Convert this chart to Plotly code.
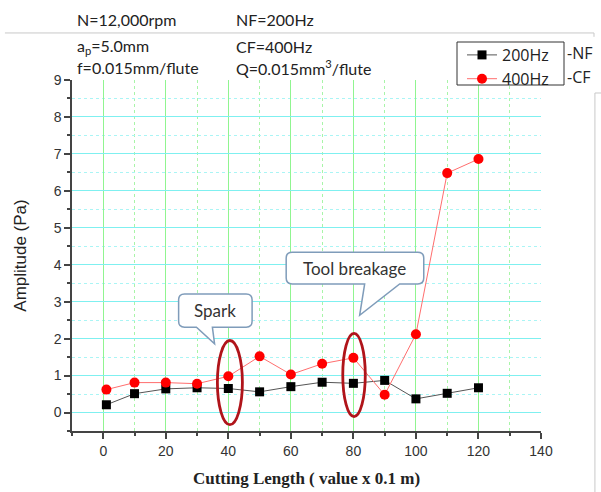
import plotly.graph_objects as go

cutting_length = [1, 10, 20, 30, 40, 50, 60, 70, 80, 90, 100, 110, 120]
nf_200hz = [0.21, 0.51, 0.64, 0.67, 0.65, 0.56, 0.70, 0.82, 0.79, 0.87, 0.37, 0.52, 0.67]
cf_400hz = [0.62, 0.81, 0.81, 0.78, 0.98, 1.52, 1.03, 1.32, 1.48, 0.48, 2.12, 6.48, 6.86]

x_ticks = [0, 20, 40, 60, 80, 100, 120, 140]
y_ticks = [0, 1, 2, 3, 4, 5, 6, 7, 8, 9]

fig = go.Figure()
fig.add_trace(go.Scatter(
    x=cutting_length, y=nf_200hz, mode="lines+markers", name="200Hz",
    line=dict(color="#555555", width=1),
    marker=dict(symbol="square", size=9, color="black"),
))
fig.add_trace(go.Scatter(
    x=cutting_length, y=cf_400hz, mode="lines+markers", name="400Hz",
    line=dict(color="#ff6e6e", width=1),
    marker=dict(symbol="circle", size=10, color="#ff0000"),
))

axis_common = dict(
    showline=True, linecolor="#444444", linewidth=1.5,
    ticks="outside", ticklen=6, tickwidth=1.5, tickcolor="#444444",
    zeroline=False, automargin=False,
    tickfont=dict(family="Liberation Sans, Arial", size=14, color="#333333"),
)

fig.update_xaxes(
    range=[-10, 140], tickvals=x_ticks,
    showgrid=True, gridcolor="#90f590", gridwidth=1.2,
    minor=dict(dtick=10, tick0=0, showgrid=True, gridcolor="#a8f5a8", griddash="dot",
               ticks="outside", ticklen=3, tickcolor="#444444"),
    title=dict(text="<b>Cutting Length ( value x 0.1 m)</b>",
               font=dict(family="Liberation Serif, Times New Roman", size=17, color="#222222"),
               standoff=15),
    **axis_common,
)
fig.update_yaxes(
    range=[-0.5, 9], tickvals=y_ticks,
    showgrid=True, gridcolor="#7ff0f0", gridwidth=1.2,
    minor=dict(dtick=0.5, tick0=0, showgrid=True, gridcolor="#aaf5f5", griddash="dot",
               ticks="outside", ticklen=3, tickcolor="#444444"),
    title=dict(text="Amplitude (Pa)",
               font=dict(family="Liberation Sans, Arial", size=17, color="#222222"),
               standoff=23),
    **axis_common,
)

# Callout path (rounded box with tail), in data units
def callout(xl, xr, yb, yt, t1, t2, tipx, tipy, rx=1.9, ry=0.16):
    return (f"M {xl+rx},{yt} L {xr-rx},{yt} Q {xr},{yt} {xr},{yt-ry} "
            f"L {xr},{yb+ry} Q {xr},{yb} {xr-rx},{yb} L {t2},{yb} L {tipx},{tipy} "
            f"L {t1},{yb} L {xl+rx},{yb} Q {xl},{yb} {xl},{yb+ry} "
            f"L {xl},{yt-ry} Q {xl},{yt} {xl+rx},{yt} Z")

box_line = dict(color="#7f9cba", width=1.5)
shapes = [
    dict(type="path", xref="x", yref="y",
         path=callout(24.1, 47.6, 2.31, 3.21, 29.8, 34.9, 35.6, 1.86),
         fillcolor="white", line=box_line, layer="above"),
    dict(type="path", xref="x", yref="y",
         path=callout(58.5, 102.5, 3.48, 4.34, 83.6, 94.8, 82.0, 2.63),
         fillcolor="white", line=box_line, layer="above"),
    dict(type="circle", xref="x", yref="y", x0=36.5, x1=44.5, y0=-0.33, y1=1.95,
         line=dict(color="#b0141a", width=2.8), layer="above"),
    dict(type="circle", xref="x", yref="y", x0=76.6, x1=83.8, y0=-0.11, y1=2.14,
         line=dict(color="#b0141a", width=2.8), layer="above"),
    # page frame lines
    dict(type="line", xref="paper", yref="paper", x0=-0.143, x1=1.113, y0=1.134, y1=1.134,
         line=dict(color="#c8c8c8", width=1)),
    dict(type="line", xref="paper", yref="paper", x0=1.113, x1=1.113, y0=1.134, y1=1.123,
         line=dict(color="#c8c8c8", width=1)),
    dict(type="line", xref="paper", yref="paper", x0=1.115, x1=1.2, y0=0.963, y1=0.963,
         line=dict(color="#c8c8c8", width=1)),
    dict(type="line", xref="paper", yref="paper", x0=1.115, x1=1.115, y0=0.963, y1=-0.2,
         line=dict(color="#c8c8c8", width=1)),
    # legend frame
    dict(type="rect", xref="paper", yref="paper",
         x0=(457 - 72) / 469, x1=(564 - 72) / 469, y0=(431 - 85) / 351, y1=(431 - 42) / 351,
         fillcolor="white", line=dict(color="#333333", width=1), layer="above"),
]

txt_font = dict(family="Lato, Open Sans", size=16, color="#222222")
call_font = dict(family="Lato, Open Sans", size=17, color="#333333")
annotations = [
    dict(text="Spark", x=35.85, y=2.76, xref="x", yref="y", showarrow=False, font=call_font),
    dict(text="Tool breakage", x=80.5, y=3.91, xref="x", yref="y", showarrow=False, font=call_font),
]
top_texts = [
    ("N=12,000rpm", 75, 20), ("NF=200Hz", 234, 20),
    ("a<sub>p</sub>=5.0mm", 75, 46), ("CF=400Hz", 234, 46),
    ("f=0.015mm/flute", 75, 68), ("Q=0.015mm<sup>3</sup>/flute", 234, 68),
]
for t, px, py in top_texts:
    annotations.append(dict(text=t, xref="paper", yref="paper",
                            x=(px - 72) / 469, y=(431 - py) / 351,
                            xanchor="left", yanchor="middle", showarrow=False, font=txt_font))
for t, py in [("-NF", 53), ("-CF", 77)]:
    annotations.append(dict(text=t, xref="paper", yref="paper",
                            x=(565 - 72) / 469, y=(431 - py) / 351,
                            xanchor="left", yanchor="middle", showarrow=False,
                            font=dict(family="Open Sans, Lato", size=16, color="#222222")))

fig.update_layout(
    width=601, height=492,
    margin=dict(l=72, r=60, t=80, b=61),
    paper_bgcolor="white", plot_bgcolor="white",
    shapes=shapes, annotations=annotations,
    legend=dict(x=(462 - 72) / 469, y=(431 - 38) / 351, xanchor="left", yanchor="top",
                bgcolor="rgba(0,0,0,0)", borderwidth=0,
                font=dict(family="Open Sans, Lato", size=16, color="#222222"),
                tracegroupgap=0, itemwidth=30),
    showlegend=True,
)

fig.write_html("out.html", config={"displayModeBar": False},
               post_script="document.body.style.margin='0';")
